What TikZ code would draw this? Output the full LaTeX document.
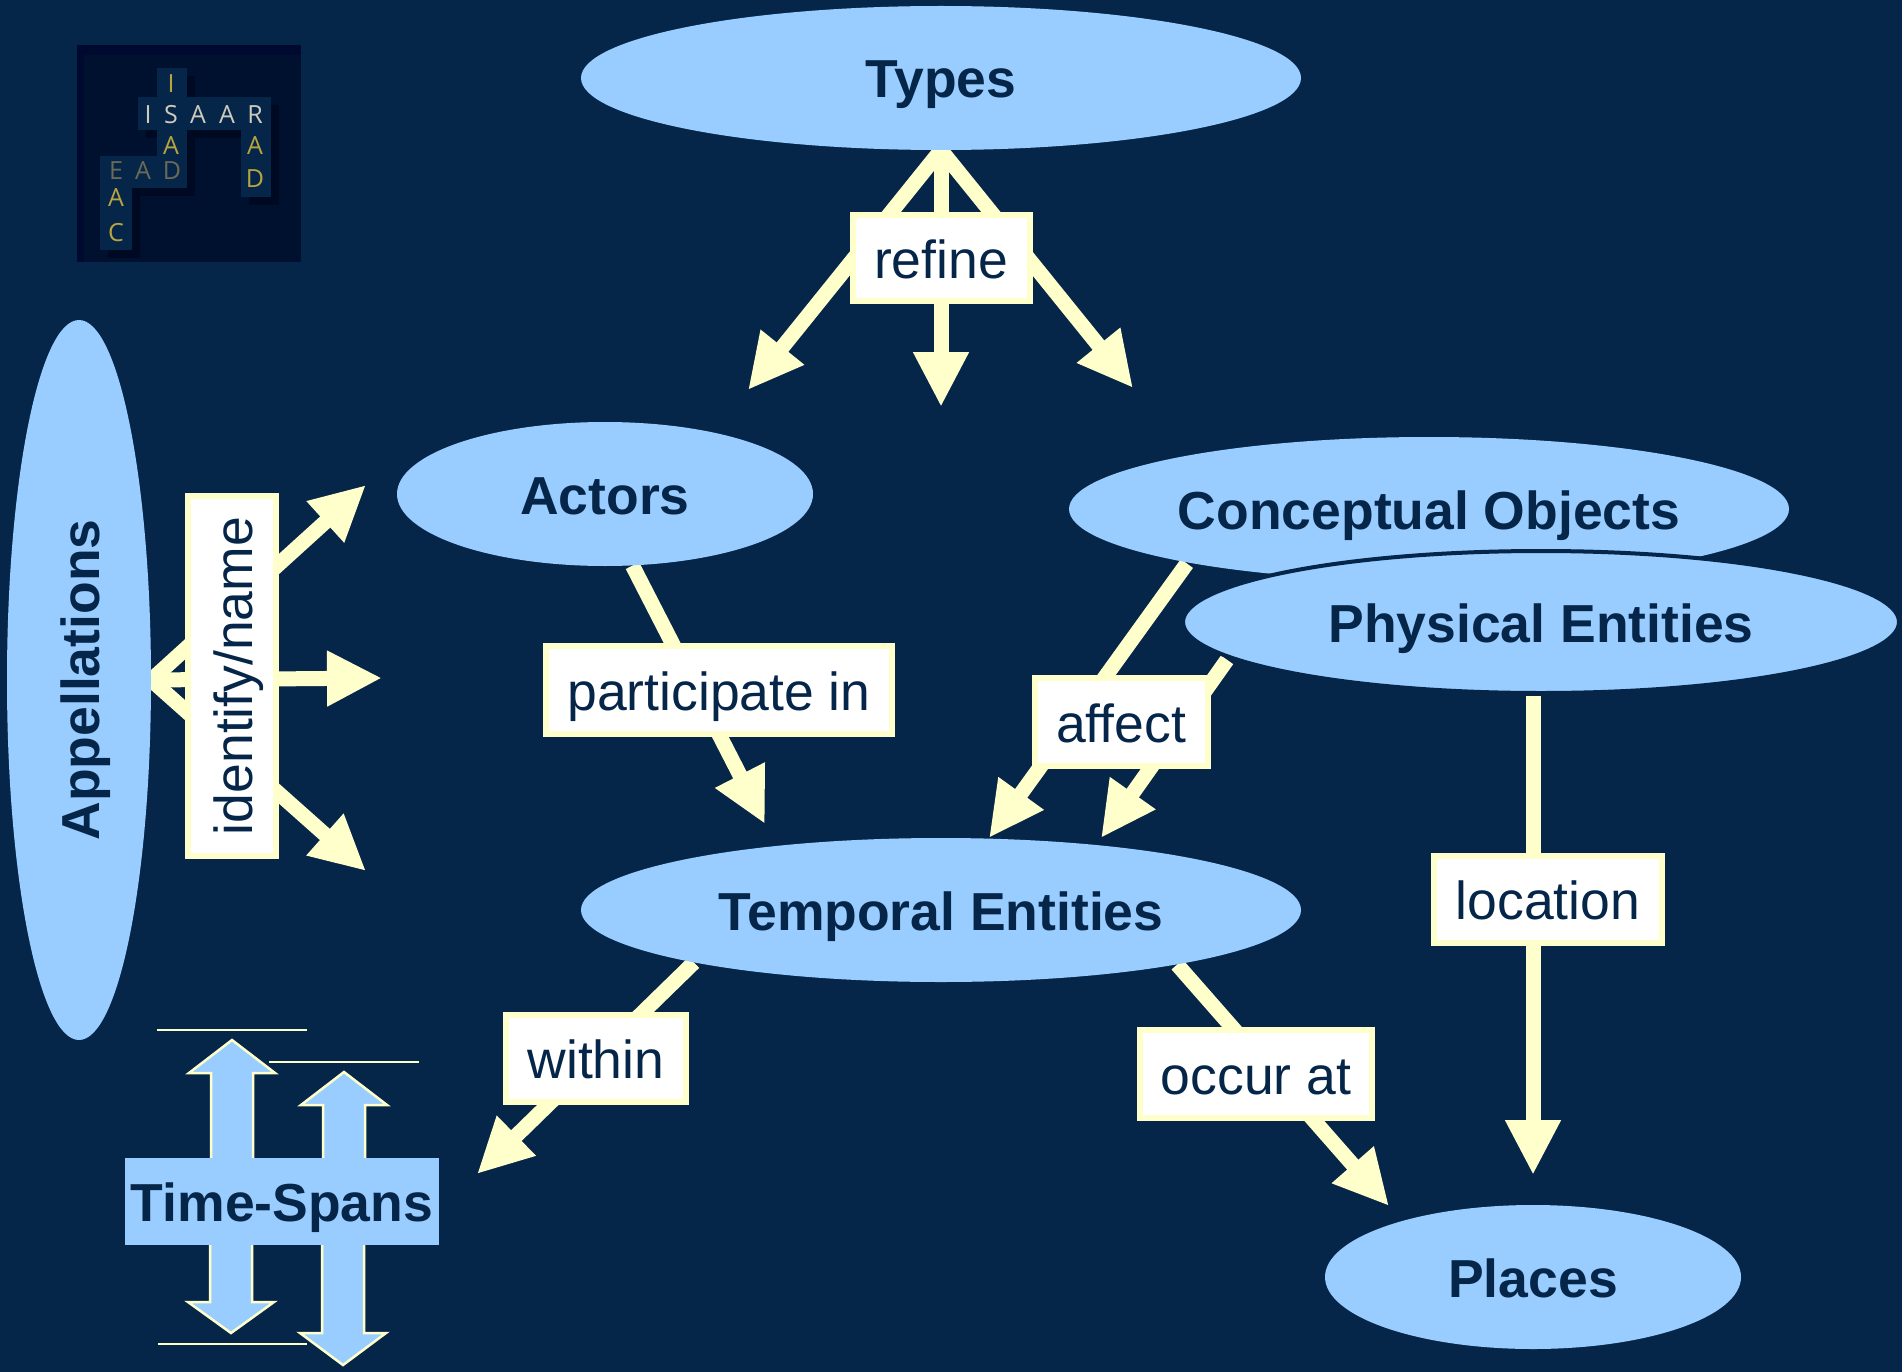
\documentclass[tikz,border=0pt]{standalone}
\usepackage{fontspec}
\setmainfont{Liberation Sans}
\newfontfamily\logofont{Open Sans}
\usetikzlibrary{arrows.meta,shapes.geometric}
\definecolor{navy}{HTML}{052649}
\definecolor{sky}{HTML}{99CCFF}
\definecolor{cream}{HTML}{FFFFCC}
\definecolor{logodark}{HTML}{00112F}
\definecolor{logoedge}{HTML}{000A30}
\definecolor{logoshade}{HTML}{000922}
\definecolor{logopale}{HTML}{CFCBBC}
\definecolor{logogold}{HTML}{B9A53F}
\definecolor{logodim}{HTML}{6A6A58}
\pgfdeclarelayer{canvas}
\pgfdeclarelayer{links}
\pgfsetlayers{canvas,links,main}
\newcommand{\bigfont}{\fontsize{53.5}{60}\selectfont}
\begin{document}
\begin{tikzpicture}[
        x=1pt, y=-1pt,
        % entity ellipses and their labels
        entity/.style={ellipse, fill=sky, text=navy, inner sep=0pt, text height=40pt, text depth=0pt, font=\bigfont\bfseries},
        tag/.style={draw=cream, line width=6pt, fill=white, text=navy, inner sep=0pt, text height=40pt, text depth=0pt, font=\bigfont},
        flow/.style={draw=cream, line width=15pt, -{Triangle[length=55pt,width=52pt]}},
        spanarrow/.style={draw=cream, fill=sky, line width=2.5pt, miter limit=10},
        tick/.style={draw=cream, line width=2.5pt},
        tile/.style={fill=navy},
        tileshade/.style={fill=logoshade},
        letter/.style={inner sep=0pt, font=\logofont\fontsize{25}{25}\selectfont}
    ]

    \useasboundingbox (0,0) rectangle (1902,1372);
    \begin{pgfonlayer}{canvas}
        \fill[navy] (0,0) rectangle (1902,1372);
    \end{pgfonlayer}

    % logo
    \fill[logoedge] (77,45) rectangle (301,262);
    \fill[logodark] (84,55) rectangle (301,262);
    \foreach \dx/\dy/\sty in {8/8/tileshade, 0/0/tile} {
        \begin{scope}[shift={(\dx,\dy)}]
            \fill[\sty] (157,68) rectangle (187,188);
            \fill[\sty] (138,97) rectangle (271,130);
            \fill[\sty] (100,156) rectangle (187,188);
            \fill[\sty] (100,156) rectangle (132,250);
            \fill[\sty] (241,97) rectangle (271,197);
        \end{scope}
    }
    \foreach \n/\lx/\ly/\txt/\col in {
        a/171/84/I/logogold, b/148/115/I/logopale, c/171/115/S/logopale,
        d/198/115/A/logopale, e/227/115/A/logopale, f/255/115/R/logopale,
        g/171/146/A/logogold, h/116/171/E/logodim, i/143/171/A/logodim,
        j/172/171/D/logodim, k/116/198/A/logogold, l/116/233/C/logogold,
        m/255/146/A/logogold, n/255/179/D/logogold} {
        \node[letter, text=\col] (logo\n) at (\lx,\ly) {\txt};
    }

    % ellipses
    \node[entity, minimum width=720pt, minimum height=144pt] (types) at (941,78) {Types};
    \node[entity, minimum width=416pt, minimum height=144pt] (actors) at (605,494) {Actors};
    \node[entity, minimum width=720pt, minimum height=144pt] (concepts) at (1429,509) {Conceptual Objects};
    \node[entity, minimum width=716pt, minimum height=142pt, draw=navy, line width=4pt] (physical) at (1541,622) {Physical Entities};
    \node[entity, minimum width=720pt, minimum height=144pt] (temporal) at (941,910) {Temporal Entities};
    \node[entity, minimum width=416pt, minimum height=144pt] (places) at (1533,1277) {Places};
    \node[entity, rotate=90, minimum width=720pt, minimum height=144pt] (appellations) at (79,680) {Appellations};

    % free arrow ends
    \coordinate (refineA) at (748,390);
    \coordinate (refineB) at (941,407);
    \coordinate (refineC) at (1133,388);
    \coordinate (nameA) at (366,485);
    \coordinate (nameB) at (382,678);
    \coordinate (nameC) at (366,871);
    \coordinate (partEnd) at (765,824);
    \coordinate (affectA) at (989,838);
    \coordinate (affectB) at (1101,838);
    \coordinate (withinEnd) at (477,1174);
    \coordinate (occurEnd) at (1389,1206);
    \coordinate (placeEnd) at (1533,1175);

    % arrows
    \begin{pgfonlayer}{links}
        \draw[flow] (types.south) -- (refineA);
        \draw[flow] (types.south) -- (refineB);
        \draw[flow] (types.south) -- (refineC);
        \draw[flow] (appellations.south) -- (nameA);
        \draw[flow] (appellations.south) -- (nameB);
        \draw[flow] (appellations.south) -- (nameC);
        \draw[flow] (actors.-69) -- (partEnd);
        \draw[flow] ([xshift=-6pt]concepts.-167.5) -- (affectA);
        \draw[flow] ([xshift=-6pt]physical.-173) -- (affectB);
        \draw[flow] (temporal.-168) -- (withinEnd);
        \draw[flow] (temporal.-13) -- (occurEnd);
        \draw[flow] (physical.south -| placeEnd) ++(0,1) -- (placeEnd);
    \end{pgfonlayer}

    % labels on the arrows
    \node[tag, minimum width=177pt, minimum height=86pt] (refine) at (941,258) {refine};
    \node[tag, minimum width=346pt, minimum height=88pt] (participate) at (719,690) {participate in};
    \node[tag, minimum width=173pt, minimum height=88pt] (affect) at (1121,722) {affect};
    \node[tag, minimum width=180pt, minimum height=87pt] (within) at (596,1058) {within};
    \node[tag, minimum width=232pt, minimum height=88pt] (occur) at (1256,1074) {occur at};
    \node[tag, minimum width=228pt, minimum height=87pt] (location) at (1548,899) {location};
    \node[tag, rotate=90, minimum width=360pt, minimum height=88pt] (identify) at (232,676) {identify/name};

    % time spans
    \draw[tick] (157,1030) -- (307,1030);
    \draw[tick] (269,1062) -- (419,1062);
    \draw[tick] (158,1344) -- (307,1344);
    \foreach \cx/\tip/\base in {232/1040/1073, 231/1333/1302, 344/1072/1105, 343/1365/1333} {
        \filldraw[spanarrow] (\cx-21,1201) -- (\cx-21,\base) -- (\cx-43,\base) -- (\cx,\tip)
            -- (\cx+43,\base) -- (\cx+21,\base) -- (\cx+21,1201);
    }
    \node[fill=sky, text=navy, inner sep=0pt, minimum width=314pt, minimum height=87pt, text height=40pt, text depth=0pt, font=\bigfont\bfseries] (spans) at (282,1201) {Time-Spans};

\end{tikzpicture}
\end{document}
